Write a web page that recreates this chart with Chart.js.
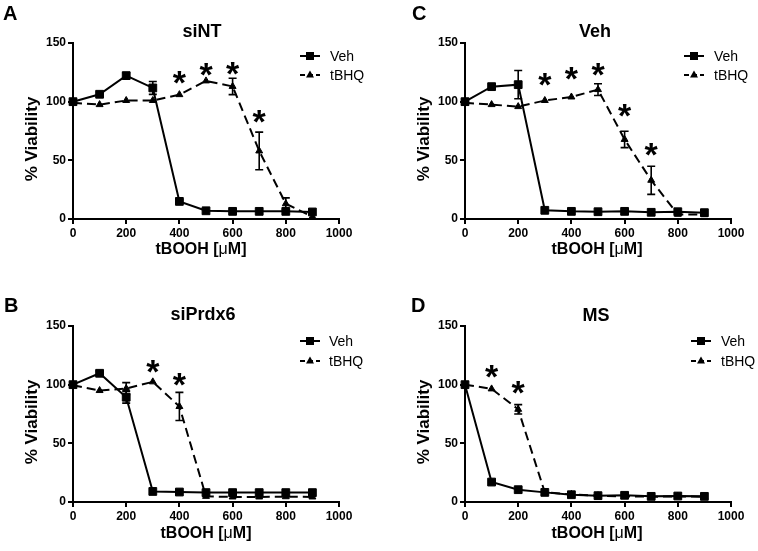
<!DOCTYPE html>
<html>
<head>
<meta charset="utf-8">
<script src="https://cdn.jsdelivr.net/npm/chart.js@4.4.1/dist/chart.umd.min.js"></script>
<style>
  html, body { margin: 0; padding: 0; background: #fff; }
  #wrap { position: relative; width: 758px; height: 551px; overflow: hidden; }
  canvas { position: absolute; }
</style>
</head>
<body>
<div id="wrap">
  <canvas id="cA" width="379" height="270" style="left:0;top:0"></canvas>
  <canvas id="cC" width="379" height="270" style="left:379px;top:0"></canvas>
  <canvas id="cB" width="379" height="281" style="left:0;top:270px"></canvas>
  <canvas id="cD" width="379" height="281" style="left:379px;top:270px"></canvas>
</div>
<script>
// ---------------- DATA ----------------
const doses = [0, 100, 200, 300, 400, 500, 600, 700, 800, 900];
const xTickStep = 200, xMax = 1000;
const yTickStep = 50, yMax = 150;
const seriesNames = ['Veh', 'tBHQ'];
const xTitle = ['tBOOH [', 'μ', 'M]'];
const yTitle = '% Viability';

// Panel A: siNT
const vehA     = [100, 106.3, 122.2, 111.7, 15, 7, 6.5, 6.5, 6.5, 6];
const vehAErr  = [2, 1, 2.5, 5.5, 1.5, 0.5, 0.5, 0.5, 0.5, 0.5];
const tbhqA    = [99, 97.5, 101, 101, 106, 117.7, 113, 58, 13, 2];
const tbhqAErr = [1, 0.5, 0.5, 1, 0.5, 0.5, 7, 16, 5, 0.5];
const starXA = [400, 500, 600, 700];
const starYA = [123, 129.5, 131, 90];

// Panel C: Veh
const vehC     = [100, 112.8, 114.5, 7.4, 6.5, 6.2, 6.5, 5.7, 6.2, 5.4];
const vehCErr  = [1.5, 1, 12, 0.5, 0.5, 0.5, 0.5, 0.5, 0.5, 0.5];
const tbhqC    = [99, 97.5, 95.8, 101, 104, 110.3, 67.8, 33, 4, 3.7];
const tbhqCErr = [1.5, 0.5, 0.5, 0.5, 0.5, 5, 7, 12, 0.5, 0.5];
const starXC = [300, 400, 500, 600, 700];
const starYC = [121.6, 126.7, 129.6, 95, 61.5];

// Panel B: siPrdx6
const vehB     = [100, 109.7, 89.3, 9, 8.5, 8, 8, 8, 8, 8];
const vehBErr  = [1.5, 2, 5, 0.5, 0.5, 0.5, 0.5, 0.5, 0.5, 0.5];
const tbhqB    = [99.5, 95, 96.7, 102.4, 81.4, 4.8, 4.3, 4.3, 4.5, 4.3];
const tbhqBErr = [1, 0.5, 5, 0.5, 12, 0.5, 0.5, 0.5, 0.5, 0.5];
const starXB = [300, 400];
const starYB = [118, 107];

// Panel D: MS
const vehD     = [100, 17, 10.5, 8.2, 6.2, 5.4, 5.7, 4.8, 5.1, 4.8];
const vehDErr  = [0.5, 1, 1, 0.5, 0.5, 0.5, 0.5, 0.5, 0.5, 0.5];
const tbhqD    = [100, 96.4, 79, 8.2, 6.5, 5.4, 4.8, 4.5, 4.8, 4.5];
const tbhqDErr = [0.5, 0.5, 4, 0.5, 0.5, 0.5, 0.5, 0.5, 0.5, 0.5];
const starXD = [100, 200];
const starYD = [114, 99.8];

// ---------------- LAYOUT / STYLE ----------------
const FONT = "'Liberation Sans', Arial, Helvetica, sans-serif";
Chart.defaults.font.family = FONT;
Chart.defaults.color = '#000';

const panels = [
  { id: 'cA', letter: 'A', title: 'siNT', veh: vehA, vehErr: vehAErr, tbhq: tbhqA, tbhqErr: tbhqAErr, sx: starXA, sy: starYA,
    w: 379, h: 270, plot: { l: 73, r: 339, t: 43, b: 219 },
    letterPos: [3, 20], titlePos: [202, 37], yTitlePos: [37, 139], xTitlePos: [201, 254],
    leg: { x0: 300, x1: 320, tx: 330, y1: 56, y2: 75 } },
  { id: 'cC', letter: 'C', title: 'Veh', veh: vehC, vehErr: vehCErr, tbhq: tbhqC, tbhqErr: tbhqCErr, sx: starXC, sy: starYC,
    w: 379, h: 270, plot: { l: 86, r: 352, t: 43, b: 219 },
    letterPos: [33, 20], titlePos: [216, 37], yTitlePos: [50, 139], xTitlePos: [218, 254],
    leg: { x0: 305, x1: 325, tx: 335, y1: 56, y2: 75 } },
  { id: 'cB', letter: 'B', title: 'siPrdx6', veh: vehB, vehErr: vehBErr, tbhq: tbhqB, tbhqErr: tbhqBErr, sx: starXB, sy: starYB,
    w: 379, h: 281, plot: { l: 73, r: 339, t: 56, b: 232 },
    letterPos: [4, 42], titlePos: [203, 50], yTitlePos: [37, 152], xTitlePos: [206, 268],
    leg: { x0: 300, x1: 320, tx: 329, y1: 71, y2: 91 } },
  { id: 'cD', letter: 'D', title: 'MS', veh: vehD, vehErr: vehDErr, tbhq: tbhqD, tbhqErr: tbhqDErr, sx: starXD, sy: starYD,
    w: 379, h: 281, plot: { l: 86, r: 352, t: 56, b: 232 },
    letterPos: [32, 42], titlePos: [217, 51], yTitlePos: [50, 152], xTitlePos: [218, 268],
    leg: { x0: 312, x1: 332, tx: 342, y1: 71, y2: 91 } }
];

const DASH = [9, 5];

function drawMarker(ctx, type, x, y) {
  ctx.save();
  ctx.fillStyle = '#000';
  ctx.beginPath();
  if (type === 'rect') {
    ctx.rect(x - 4, y - 4, 8, 8);
  } else {
    ctx.moveTo(x, y - 4.5);
    ctx.lineTo(x + 4, y + 2.5);
    ctx.lineTo(x - 4, y + 2.5);
    ctx.closePath();
  }
  ctx.fill();
  ctx.restore();
}

const annotPlugin = {
  id: 'annot',
  beforeDatasetsDraw(chart) {
    const p = chart.options.plugins.annot.panel;
    const ctx = chart.ctx, xs = chart.scales.x, ys = chart.scales.y;
    ctx.save();
    ctx.strokeStyle = '#000';
    ctx.lineWidth = 1.6;
    ctx.setLineDash([]);
    [[p.veh, p.vehErr], [p.tbhq, p.tbhqErr]].forEach(([vals, errs]) => {
      vals.forEach((v, i) => {
        const e = errs[i];
        if (e < 1.5) return;
        const x = xs.getPixelForValue(doses[i]);
        const yt = ys.getPixelForValue(v + e), yb = ys.getPixelForValue(v - e);
        ctx.beginPath();
        ctx.moveTo(x, yt); ctx.lineTo(x, yb);
        ctx.moveTo(x - 4, yt); ctx.lineTo(x + 4, yt);
        ctx.moveTo(x - 4, yb); ctx.lineTo(x + 4, yb);
        ctx.stroke();
      });
    });
    ctx.restore();
  },
  afterDraw(chart) {
    const p = chart.options.plugins.annot.panel;
    const ctx = chart.ctx, xs = chart.scales.x, ys = chart.scales.y;
    ctx.save();
    ctx.fillStyle = '#000';
    ctx.textBaseline = 'alphabetic';
    // panel letter
    ctx.font = 'bold 20px ' + FONT;
    ctx.textAlign = 'left';
    ctx.fillText(p.letter, p.letterPos[0], p.letterPos[1]);
    // title
    ctx.font = 'bold 18px ' + FONT;
    ctx.textAlign = 'center';
    ctx.fillText(p.title, p.titlePos[0], p.titlePos[1]);
    // x title (mu in regular weight)
    const fB = 'bold 16px ' + FONT, fR = '16px ' + FONT;
    ctx.font = fB; const w0 = ctx.measureText(xTitle[0]).width, w2 = ctx.measureText(xTitle[2]).width;
    ctx.font = fR; const w1 = ctx.measureText(xTitle[1]).width;
    let xx = p.xTitlePos[0] - (w0 + w1 + w2) / 2;
    ctx.textAlign = 'left';
    ctx.font = fB; ctx.fillText(xTitle[0], xx, p.xTitlePos[1]); xx += w0;
    ctx.font = fR; ctx.fillText(xTitle[1], xx, p.xTitlePos[1]); xx += w1;
    ctx.font = fB; ctx.fillText(xTitle[2], xx, p.xTitlePos[1]);
    // y title
    ctx.save();
    ctx.translate(p.yTitlePos[0], p.yTitlePos[1]);
    ctx.rotate(-Math.PI / 2);
    ctx.font = 'bold 17px ' + FONT;
    ctx.textAlign = 'center';
    ctx.textBaseline = 'alphabetic';
    ctx.fillText(yTitle, 0, 0);
    ctx.restore();
    // legend
    const L = p.leg;
    ctx.strokeStyle = '#000';
    ctx.lineWidth = 2;
    ctx.setLineDash([]);
    ctx.beginPath(); ctx.moveTo(L.x0, L.y1); ctx.lineTo(L.x1, L.y1); ctx.stroke();
    drawMarker(ctx, 'rect', (L.x0 + L.x1) / 2, L.y1);
    ctx.setLineDash([5, 3]);
    ctx.beginPath(); ctx.moveTo(L.x0, L.y2); ctx.lineTo(L.x1, L.y2); ctx.stroke();
    ctx.setLineDash([]);
    drawMarker(ctx, 'tri', (L.x0 + L.x1) / 2, L.y2);
    ctx.font = '14px ' + FONT;
    ctx.textAlign = 'left';
    ctx.textBaseline = 'middle';
    ctx.fillText(seriesNames[0], L.tx, L.y1 + 1);
    ctx.fillText(seriesNames[1], L.tx, L.y2 + 1);
    // significance asterisks
    const S = 34;
    ctx.font = 'bold ' + S + 'px ' + FONT;
    ctx.textAlign = 'center';
    ctx.textBaseline = 'alphabetic';
    p.sx.forEach((sx, i) => {
      const x = xs.getPixelForValue(sx), y = ys.getPixelForValue(p.sy[i]);
      ctx.fillText('*', x, y + 0.57 * S);
    });
    ctx.restore();
  }
};

panels.forEach(p => {
  const ctx = document.getElementById(p.id).getContext('2d');
  new Chart(ctx, {
    type: 'line',
    data: {
      datasets: [
        { label: seriesNames[1], data: doses.map((d, i) => ({ x: d, y: p.tbhq[i] })),
          borderColor: '#000', backgroundColor: '#000', borderWidth: 2, borderDash: DASH,
          pointStyle: 'triangle', pointRadius: 4, pointBorderWidth: 1, clip: false, order: 2 },
        { label: seriesNames[0], data: doses.map((d, i) => ({ x: d, y: p.veh[i] })),
          borderColor: '#000', backgroundColor: '#000', borderWidth: 2,
          pointStyle: 'rect', pointRadius: 5.5, pointBorderWidth: 1, clip: false, order: 1 }
      ]
    },
    options: {
      responsive: false,
      animation: false,
      devicePixelRatio: 1,
      layout: { padding: { left: 0, top: p.plot.t, right: p.w - p.plot.r, bottom: 0 } },
      plugins: { legend: { display: false }, tooltip: { enabled: false }, annot: { panel: p } },
      scales: {
        x: {
          type: 'linear', min: 0, max: xMax,
          ticks: { stepSize: xTickStep, font: { size: 12, weight: 'bold' }, padding: 2, maxRotation: 0,
                   callback: v => String(v) },
          grid: { drawOnChartArea: false, drawTicks: true, tickLength: 5, color: '#000', lineWidth: 2 },
          border: { display: true, color: '#000', width: 2 },
          afterFit: s => { s.height = p.h - p.plot.b; }
        },
        y: {
          min: 0, max: yMax,
          ticks: { stepSize: yTickStep, font: { size: 12, weight: 'bold' }, padding: 2,
                   callback: v => String(v) },
          grid: { drawOnChartArea: false, drawTicks: true, tickLength: 5, color: '#000', lineWidth: 2 },
          border: { display: true, color: '#000', width: 2 },
          afterFit: s => { s.width = p.plot.l; }
        }
      }
    },
    plugins: [annotPlugin]
  });
});
</script>
</body>
</html>
